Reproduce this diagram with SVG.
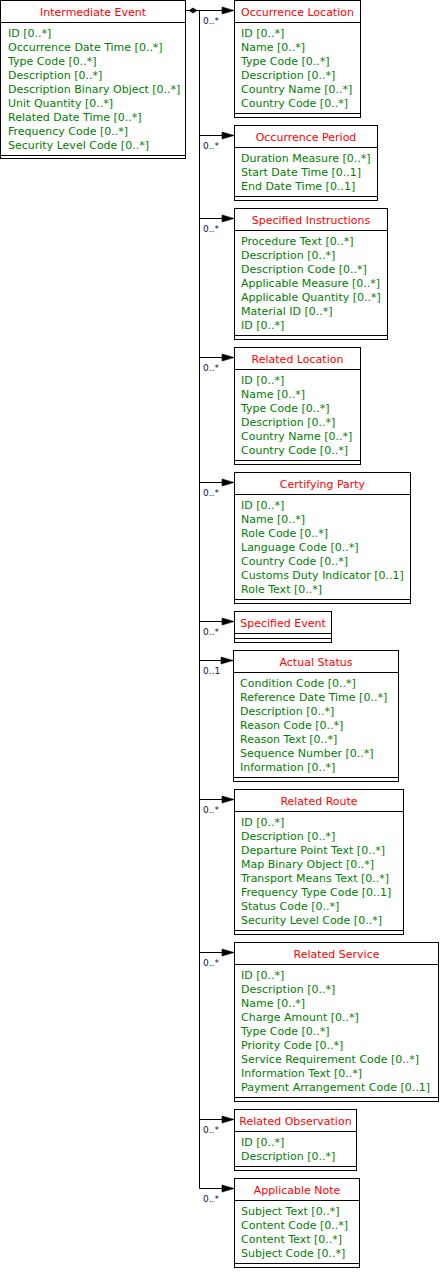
<svg xmlns="http://www.w3.org/2000/svg" width="440" height="1283" viewBox="0 0 440 1283">
<style>
.box{fill:#fff;stroke:#000;stroke-width:1}
.sep{stroke:#000;stroke-width:1}
.title{font-family:"DejaVu Sans",sans-serif;font-size:11px;fill:#ff0000;text-anchor:middle}
.attr{font-family:"DejaVu Sans",sans-serif;font-size:11px;fill:#008000}
.mult{font-family:"DejaVu Sans",sans-serif;font-size:9px;fill:#10104a}
.conn{stroke:#000;stroke-width:1;fill:none}
.head{fill:#000;stroke:#000;stroke-width:0.6}
</style>
<rect x="0" y="0" width="440" height="1283" fill="#fff"/>
<g id="connectors">
<path class="conn" d="M186 10.5H234M199.5 10.5V1188.5"/>
<polygon class="head" points="189,10.5 193,8 197,10.5 193,13"/>
<polygon class="head" points="222,7 234,10.5 222,14"/>
<text class="mult" x="203" y="24">0..*</text>
<path class="conn" d="M199.5 135.5H234"/><polygon class="head" points="222,132 234,135.5 222,139"/><text class="mult" x="203" y="149">0..*</text>
<path class="conn" d="M199.5 218.5H234"/><polygon class="head" points="222,215 234,218.5 222,222"/><text class="mult" x="203" y="232">0..*</text>
<path class="conn" d="M199.5 357.5H234"/><polygon class="head" points="222,354 234,357.5 222,361"/><text class="mult" x="203" y="371">0..*</text>
<path class="conn" d="M199.5 482.5H234"/><polygon class="head" points="222,479 234,482.5 222,486"/><text class="mult" x="203" y="496">0..*</text>
<path class="conn" d="M199.5 621.5H234"/><polygon class="head" points="222,618 234,621.5 222,625"/><text class="mult" x="203" y="635">0..*</text>
<path class="conn" d="M199.5 660.5H233"/><polygon class="head" points="221,657 233,660.5 221,664"/><text class="mult" x="203" y="674">0..1</text>
<path class="conn" d="M199.5 799.5H234"/><polygon class="head" points="222,796 234,799.5 222,803"/><text class="mult" x="203" y="813">0..*</text>
<path class="conn" d="M199.5 952.5H234"/><polygon class="head" points="222,949 234,952.5 222,956"/><text class="mult" x="203" y="966">0..*</text>
<path class="conn" d="M199.5 1119.5H234"/><polygon class="head" points="222,1116 234,1119.5 222,1123"/><text class="mult" x="203" y="1133">0..*</text>
<path class="conn" d="M199.5 1188.5H234"/><polygon class="head" points="222,1185 234,1188.5 222,1192"/><text class="mult" x="203" y="1202">0..*</text>
</g>
<g id="intermediate-event">
<rect class="box" x="0.5" y="0.5" width="185" height="158"/>
<path class="sep" d="M0.5 22.5H185.5M0.5 155.5H185.5"/>
<text class="title" x="93" y="16">Intermediate Event</text>
<text class="attr" x="8" y="37">ID [0..*]</text>
<text class="attr" x="8" y="51">Occurrence Date Time [0..*]</text>
<text class="attr" x="8" y="65">Type Code [0..*]</text>
<text class="attr" x="8" y="79">Description [0..*]</text>
<text class="attr" x="8" y="93">Description Binary Object [0..*]</text>
<text class="attr" x="8" y="107">Unit Quantity [0..*]</text>
<text class="attr" x="8" y="121">Related Date Time [0..*]</text>
<text class="attr" x="8" y="135">Frequency Code [0..*]</text>
<text class="attr" x="8" y="149">Security Level Code [0..*]</text>
</g>
<g id="occurrence-location">
<rect class="box" x="234.5" y="0.5" width="126" height="117"/>
<path class="sep" d="M234.5 22.5H360.5M234.5 113.5H360.5"/>
<text class="title" x="297.5" y="16">Occurrence Location</text>
<text class="attr" x="241" y="37">ID [0..*]</text>
<text class="attr" x="241" y="51">Name [0..*]</text>
<text class="attr" x="241" y="65">Type Code [0..*]</text>
<text class="attr" x="241" y="79">Description [0..*]</text>
<text class="attr" x="241" y="93">Country Name [0..*]</text>
<text class="attr" x="241" y="107">Country Code [0..*]</text>
</g>
<g id="occurrence-period">
<rect class="box" x="234.5" y="125.5" width="143" height="75"/>
<path class="sep" d="M234.5 147.5H377.5M234.5 196.5H377.5"/>
<text class="title" x="306" y="141">Occurrence Period</text>
<text class="attr" x="241" y="162">Duration Measure [0..*]</text>
<text class="attr" x="241" y="176">Start Date Time [0..1]</text>
<text class="attr" x="241" y="190">End Date Time [0..1]</text>
</g>
<g id="specified-instructions">
<rect class="box" x="234.5" y="208.5" width="153" height="131"/>
<path class="sep" d="M234.5 230.5H387.5M234.5 335.5H387.5"/>
<text class="title" x="311" y="224">Specified Instructions</text>
<text class="attr" x="241" y="245">Procedure Text [0..*]</text>
<text class="attr" x="241" y="259">Description [0..*]</text>
<text class="attr" x="241" y="273">Description Code [0..*]</text>
<text class="attr" x="241" y="287">Applicable Measure [0..*]</text>
<text class="attr" x="241" y="301">Applicable Quantity [0..*]</text>
<text class="attr" x="241" y="315">Material ID [0..*]</text>
<text class="attr" x="241" y="329">ID [0..*]</text>
</g>
<g id="related-location">
<rect class="box" x="234.5" y="347.5" width="126" height="117"/>
<path class="sep" d="M234.5 369.5H360.5M234.5 460.5H360.5"/>
<text class="title" x="297.5" y="363">Related Location</text>
<text class="attr" x="241" y="384">ID [0..*]</text>
<text class="attr" x="241" y="398">Name [0..*]</text>
<text class="attr" x="241" y="412">Type Code [0..*]</text>
<text class="attr" x="241" y="426">Description [0..*]</text>
<text class="attr" x="241" y="440">Country Name [0..*]</text>
<text class="attr" x="241" y="454">Country Code [0..*]</text>
</g>
<g id="certifying-party">
<rect class="box" x="234.5" y="472.5" width="176" height="131"/>
<path class="sep" d="M234.5 494.5H410.5M234.5 599.5H410.5"/>
<text class="title" x="322.5" y="488">Certifying Party</text>
<text class="attr" x="241" y="509">ID [0..*]</text>
<text class="attr" x="241" y="523">Name [0..*]</text>
<text class="attr" x="241" y="537">Role Code [0..*]</text>
<text class="attr" x="241" y="551">Language Code [0..*]</text>
<text class="attr" x="241" y="565">Country Code [0..*]</text>
<text class="attr" x="241" y="579">Customs Duty Indicator [0..1]</text>
<text class="attr" x="241" y="593">Role Text [0..*]</text>
</g>
<g id="specified-event">
<rect class="box" x="234.5" y="611.5" width="97" height="31"/>
<path class="sep" d="M234.5 633.5H331.5M234.5 638.5H331.5"/>
<text class="title" x="283" y="627">Specified Event</text>
</g>
<g id="actual-status">
<rect class="box" x="233.5" y="650.5" width="165" height="131"/>
<path class="sep" d="M233.5 672.5H398.5M233.5 777.5H398.5"/>
<text class="title" x="316" y="666">Actual Status</text>
<text class="attr" x="240" y="687">Condition Code [0..*]</text>
<text class="attr" x="240" y="701">Reference Date Time [0..*]</text>
<text class="attr" x="240" y="715">Description [0..*]</text>
<text class="attr" x="240" y="729">Reason Code [0..*]</text>
<text class="attr" x="240" y="743">Reason Text [0..*]</text>
<text class="attr" x="240" y="757">Sequence Number [0..*]</text>
<text class="attr" x="240" y="771">Information [0..*]</text>
</g>
<g id="related-route">
<rect class="box" x="234.5" y="789.5" width="169" height="145"/>
<path class="sep" d="M234.5 811.5H403.5M234.5 930.5H403.5"/>
<text class="title" x="319" y="805">Related Route</text>
<text class="attr" x="241" y="826">ID [0..*]</text>
<text class="attr" x="241" y="840">Description [0..*]</text>
<text class="attr" x="241" y="854">Departure Point Text [0..*]</text>
<text class="attr" x="241" y="868">Map Binary Object [0..*]</text>
<text class="attr" x="241" y="882">Transport Means Text [0..*]</text>
<text class="attr" x="241" y="896">Frequency Type Code [0..1]</text>
<text class="attr" x="241" y="910">Status Code [0..*]</text>
<text class="attr" x="241" y="924">Security Level Code [0..*]</text>
</g>
<g id="related-service">
<rect class="box" x="234.5" y="942.5" width="204" height="159"/>
<path class="sep" d="M234.5 964.5H438.5M234.5 1097.5H438.5"/>
<text class="title" x="336.5" y="958">Related Service</text>
<text class="attr" x="241" y="979">ID [0..*]</text>
<text class="attr" x="241" y="993">Description [0..*]</text>
<text class="attr" x="241" y="1007">Name [0..*]</text>
<text class="attr" x="241" y="1021">Charge Amount [0..*]</text>
<text class="attr" x="241" y="1035">Type Code [0..*]</text>
<text class="attr" x="241" y="1049">Priority Code [0..*]</text>
<text class="attr" x="241" y="1063">Service Requirement Code [0..*]</text>
<text class="attr" x="241" y="1077">Information Text [0..*]</text>
<text class="attr" x="241" y="1091">Payment Arrangement Code [0..1]</text>
</g>
<g id="related-observation">
<rect class="box" x="234.5" y="1109.5" width="122" height="61"/>
<path class="sep" d="M234.5 1131.5H356.5M234.5 1166.5H356.5"/>
<text class="title" x="295.5" y="1125">Related Observation</text>
<text class="attr" x="241" y="1146">ID [0..*]</text>
<text class="attr" x="241" y="1160">Description [0..*]</text>
</g>
<g id="applicable-note">
<rect class="box" x="234.5" y="1178.5" width="125" height="89"/>
<path class="sep" d="M234.5 1200.5H359.5M234.5 1263.5H359.5"/>
<text class="title" x="297" y="1194">Applicable Note</text>
<text class="attr" x="241" y="1215">Subject Text [0..*]</text>
<text class="attr" x="241" y="1229">Content Code [0..*]</text>
<text class="attr" x="241" y="1243">Content Text [0..*]</text>
<text class="attr" x="241" y="1257">Subject Code [0..*]</text>
</g>
</svg>
